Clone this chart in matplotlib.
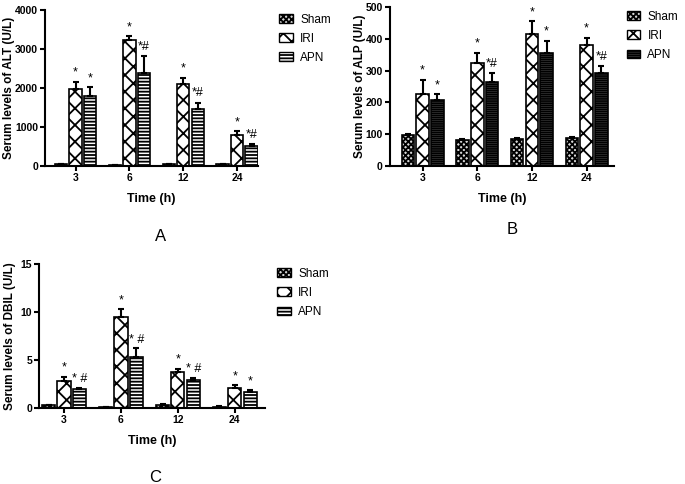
import numpy as np
import matplotlib.pyplot as plt
from matplotlib.patches import Patch

plt.rcParams['font.family'] = ['Liberation Sans', 'DejaVu Sans']
plt.rcParams['hatch.linewidth'] = 1.3

times = ['3', '6', '12', '24']
groups = ['Sham', 'IRI', 'APN']

alt_sham = [40, 30, 40, 50]
alt_iri = [1970, 3230, 2100, 790]
alt_apn = [1800, 2400, 1470, 520]
alt_sham_err = [10, 8, 10, 10]
alt_iri_err = [190, 100, 170, 100]
alt_apn_err = [220, 420, 160, 50]
alt_marks_iri = ['*', '*', '*', '*']
alt_marks_apn = ['*', '*#', '*#', '*#']

alp_sham = [97, 83, 86, 87]
alp_iri = [226, 325, 414, 382]
alp_apn = [208, 264, 356, 291]
alp_sham_err = [4, 3, 3, 3]
alp_iri_err = [46, 31, 41, 21]
alp_apn_err = [18, 27, 37, 24]
alp_marks_iri = ['*', '*', '*', '*']
alp_marks_apn = ['*', '*#', '*', '*#']

dbil_sham = [0.3, 0.1, 0.35, 0.15]
dbil_iri = [2.8, 9.5, 3.76, 2.1]
dbil_apn = [2.0, 5.3, 2.9, 1.7]
dbil_sham_err = [0.05, 0.03, 0.08, 0.03]
dbil_iri_err = [0.45, 0.8, 0.35, 0.3]
dbil_apn_err = [0.1, 0.9, 0.2, 0.15]
dbil_marks_iri = ['*', '*', '*', '*']
dbil_marks_apn = ['* #', '* #', '* #', '*']

fig = plt.figure(figsize=(6.85, 4.84), dpi=100)

SHAM_H = 'xxxxxx'
IRI_H = 'xx'


def panel(rect, sham, iri, apn, errs, marks, ylim, yticks, ylabel, xlim, apn_hatch, apn_color, pad, ylx):
    ax = fig.add_axes(rect)
    x = np.arange(len(times))
    w = 0.23
    off = 0.27
    styles = [(SHAM_H, '#d8d8d8', sham), (IRI_H, 'white', iri), (apn_hatch, apn_color, apn)]
    for i, (h, c, vals) in enumerate(styles):
        e = errs[i]
        ax.bar(x + (i - 1) * off, vals, w, color=c, edgecolor='black', hatch=h, linewidth=1.2,
               yerr=[np.zeros(len(e)), e], capsize=2.5,
               error_kw=dict(ecolor='black', elinewidth=1.5, capthick=1.5))
    for i, vals in ((1, iri), (2, apn)):
        for j in range(len(times)):
            ax.text(x[j] + (i - 1) * off, vals[j] + errs[i][j] + pad, marks[i - 1][j],
                    ha='center', va='bottom', fontsize=9)
    ax.set_xlim(*xlim)
    ax.set_ylim(*ylim)
    ax.set_yticks(yticks)
    ax.set_xticks(x)
    ax.set_xticklabels(times)
    for s in ['top', 'right']:
        ax.spines[s].set_visible(False)
    for s in ['left', 'bottom']:
        ax.spines[s].set_linewidth(1.5)
    ax.tick_params(width=1.5, length=3.5, labelsize=7.5, pad=1.5)
    for t in ax.get_xticklabels() + ax.get_yticklabels():
        t.set_fontweight('bold')
    ax.set_ylabel(ylabel, fontsize=8.5, fontweight='bold')
    ax.yaxis.set_label_coords(ylx, 0.5)
    ax.set_xlabel('Time (h)', fontsize=9, fontweight='bold', labelpad=7)
    return ax


def legend(x, y, apn_hatch, apn_color):
    handles = [Patch(facecolor='#d8d8d8', edgecolor='black', hatch=SHAM_H),
               Patch(facecolor='white', edgecolor='black', hatch=IRI_H),
               Patch(facecolor=apn_color, edgecolor='black', hatch=apn_hatch)]
    fig.legend(handles, groups, loc='upper left', bbox_to_anchor=(x, y), frameon=False,
               fontsize=8.5, handlelength=1.15, handleheight=0.7, labelspacing=0.6,
               handletextpad=0.6, borderaxespad=0, borderpad=0)


panel([0.0657, 0.657, 0.311, 0.322], alt_sham, alt_iri, alt_apn,
      [alt_sham_err, alt_iri_err, alt_apn_err], [alt_marks_iri, alt_marks_apn],
      (0, 4000), [0, 1000, 2000, 3000, 4000], 'Serum levels of ALT (U/L)',
      (-0.57, 3.39), '-----', 'white', 80, -0.14)
legend(0.408, 0.972, '-----', 'white')

panel([0.569, 0.657, 0.328, 0.3285], alp_sham, alp_iri, alp_apn,
      [alp_sham_err, alp_iri_err, alp_apn_err], [alp_marks_iri, alp_marks_apn],
      (0, 500), [0, 100, 200, 300, 400, 500], 'Serum levels of ALP (U/L)',
      (-0.6, 3.51), '--------', '#888888', 10, -0.105)
legend(0.915, 0.978, '--------', '#888888')

panel([0.0569, 0.157, 0.33, 0.2975], dbil_sham, dbil_iri, dbil_apn,
      [dbil_sham_err, dbil_iri_err, dbil_apn_err], [dbil_marks_iri, dbil_marks_apn],
      (0, 15), [0, 5, 10, 15], 'Serum levels of DBIL (U/L)',
      (-0.44, 3.53), '-----', 'white', 0.3, -0.1)
legend(0.405, 0.447, '-----', 'white')

fig.text(0.234, 0.512, 'A', fontsize=12, ha='center', va='center')
fig.text(0.747, 0.525, 'B', fontsize=12, ha='center', va='center')
fig.text(0.226, 0.014, 'C', fontsize=12, ha='center', va='center')

fig.savefig('out.png', dpi=100)
